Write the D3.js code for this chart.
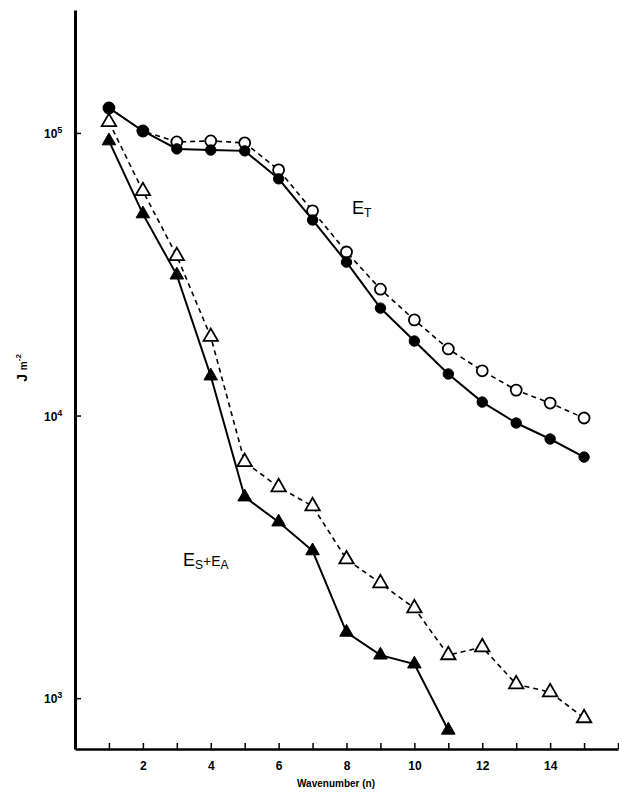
<!DOCTYPE html>
<html>
<head>
<meta charset="utf-8">
<script src="https://cdn.jsdelivr.net/npm/d3@7"></script>
<style>
  body { margin: 0; background: #fff; }
  svg { display: block; font-family: "Liberation Sans", Arial, sans-serif; }
</style>
</head>
<body>
<div id="chart"></div>
<script>
// wavenumbers
const wavenumbers = [1, 2, 3, 4, 5, 6, 7, 8, 9, 10, 11, 12, 13, 14, 15];

// E_T, filled circles, solid line
const etSolid = [122600, 101600, 87800, 87000, 86400, 68800, 49200, 34900, 24000, 18350, 14030, 11160, 9410, 8260, 7130];
// E_T, open circles, dashed line
const etDashed = [122600, 101600, 92900, 93700, 92200, 74000, 53000, 37900, 28000, 21800, 17200, 14400, 12300, 11070, 9800];
// E_S + E_A, filled triangles, solid line (stops at n = 11)
const esaSolid = [93700, 51700, 31400, 13800, 5150, 4200, 3320, 1710, 1420, 1320, 770];
// E_S + E_A, open triangles, dashed line
const esaDashed = [109400, 62300, 36700, 19000, 6850, 5580, 4780, 3100, 2550, 2080, 1420, 1515, 1120, 1050, 850];

const yTicks = [1000, 10000, 100000];
const xTicks = [1, 2, 3, 4, 5, 6, 7, 8, 9, 10, 11, 12, 13, 14, 15, 16];
const xLabels = [2, 4, 6, 8, 10, 12, 14];

const W = 619, H = 797;
const svg = d3.select("#chart").append("svg")
    .attr("width", W)
    .attr("height", H);

// scales
const x = d3.scaleLinear().domain([0, 16]).range([75, 618]);
const y = d3.scaleLog().domain([Math.pow(10, 2.82), Math.pow(10, 5.435)]).range([749, 10]);

// x axis
const xAxis = svg.append("g")
    .attr("transform", `translate(0,${y.range()[0]})`)
    .call(d3.axisBottom(x)
        .tickValues(xTicks)
        .tickSize(-6)
        .tickSizeOuter(0)
        .tickFormat(d => xLabels.includes(d) ? d : ""));
xAxis.select(".domain").attr("stroke-width", 2.5);
xAxis.selectAll(".tick line").attr("stroke-width", 1.5);
xAxis.selectAll(".tick text")
    .attr("y", 12)
    .attr("font-size", 12)
    .attr("font-weight", "bold")
    .attr("fill", "#000");

// y axis
const yAxis = svg.append("g")
    .attr("transform", `translate(${x.range()[0]},0)`)
    .call(d3.axisLeft(y)
        .tickValues(yTicks)
        .tickSize(-6)
        .tickSizeOuter(0)
        .tickFormat(""));
yAxis.select(".domain").attr("stroke-width", 3);
yAxis.selectAll(".tick line").attr("stroke-width", 1.5);

// y tick labels as 10 with superscript exponent
const yLab = svg.append("g").selectAll("text")
    .data(yTicks)
    .enter()
    .append("text")
    .attr("x", 44)
    .attr("y", d => y(d) + 5)
    .attr("font-size", 12)
    .attr("font-weight", "bold");
yLab.append("tspan").text("10");
yLab.append("tspan")
    .attr("dy", -5)
    .attr("font-size", 9)
    .text(d => Math.round(Math.log10(d)));

// axis titles
const yTitle = svg.append("text")
    .attr("transform", "translate(27,368) rotate(-90)")
    .attr("text-anchor", "middle")
    .attr("font-size", 14)
    .attr("font-weight", "bold");
yTitle.append("tspan").text("J ");
yTitle.append("tspan").attr("font-size", 10).text("m");
yTitle.append("tspan").attr("font-size", 8).attr("dy", -6).text("-2");

svg.append("text")
    .attr("x", 336)
    .attr("y", 787)
    .attr("text-anchor", "middle")
    .attr("font-size", 10)
    .attr("font-weight", "bold")
    .text("Wavenumber  (n)");

// series
const series = [
    { values: etDashed, dashed: true, marker: "circle", filled: false },
    { values: esaDashed, dashed: true, marker: "triangle", filled: false },
    { values: etSolid, dashed: false, marker: "circle", filled: true },
    { values: esaSolid, dashed: false, marker: "triangle", filled: true }
];

const line = d3.line()
    .x((d, i) => x(wavenumbers[i]))
    .y(d => y(d));

series.forEach(s => {
    svg.append("path")
        .datum(s.values)
        .attr("d", line)
        .attr("fill", "none")
        .attr("stroke", "#000")
        .attr("stroke-width", s.dashed ? 1.6 : 2)
        .attr("stroke-dasharray", s.dashed ? "5,4" : null);
});

series.forEach(s => {
    const sym = d3.symbol()
        .type(s.marker === "circle" ? d3.symbolCircle : d3.symbolTriangle)
        .size(s.marker === "circle" ? (s.filled ? 85 : 95) : (s.filled ? 80 : 90));
    svg.append("g").selectAll("path")
        .data(s.values)
        .enter()
        .append("path")
        .attr("d", sym)
        .attr("transform", (d, i) => `translate(${x(wavenumbers[i])},${y(d)})`)
        .attr("fill", s.filled ? "#000" : "#fff")
        .attr("stroke", "#000")
        .attr("stroke-width", s.filled ? 1 : 1.8);
});

// curve labels
const et = svg.append("text")
    .attr("x", 352)
    .attr("y", 214)
    .attr("font-size", 18);
et.append("tspan").text("E");
et.append("tspan").attr("font-size", 12).attr("dy", 3).text("T");

const esa = svg.append("text")
    .attr("x", 183)
    .attr("y", 566)
    .attr("font-size", 18);
esa.append("tspan").text("E");
esa.append("tspan").attr("font-size", 12).attr("dy", 3).text("S");
esa.append("tspan").attr("font-size", 14).attr("dy", -3).text("+E");
esa.append("tspan").attr("font-size", 12).attr("dy", 3).text("A");
</script>
</body>
</html>
